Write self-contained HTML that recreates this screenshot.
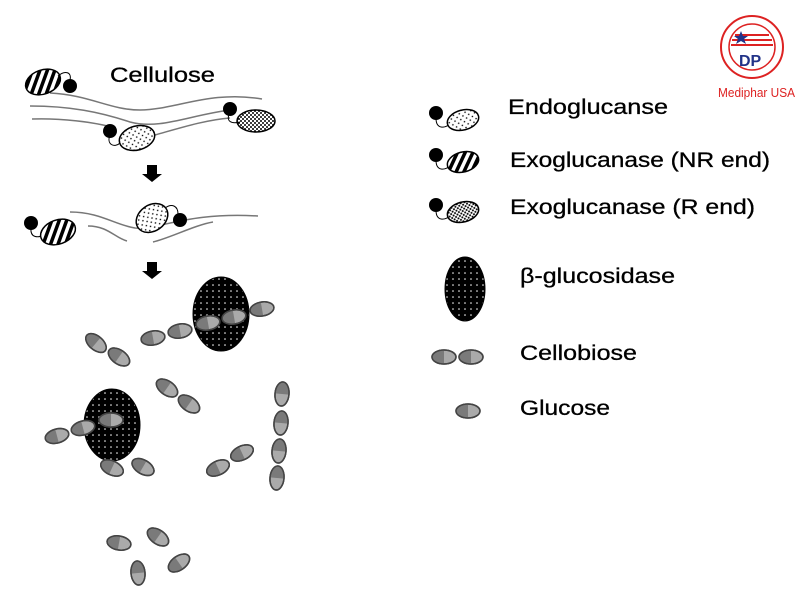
<!DOCTYPE html>
<html><head><meta charset="utf-8"><style>
html,body{margin:0;padding:0;background:#fff}
svg{display:block}
text{font-family:"Liberation Sans",Arial,sans-serif}
</style></head><body>
<svg width="800" height="600" viewBox="0 0 800 600" xmlns="http://www.w3.org/2000/svg">
<defs>
<pattern id="dots" width="6" height="6" patternUnits="userSpaceOnUse"><rect width="6" height="6" fill="#fff"/><circle cx="2" cy="2" r="0.8" fill="#000"/><circle cx="5" cy="5" r="0.8" fill="#000"/></pattern>
<pattern id="dense" width="4" height="4" patternUnits="userSpaceOnUse"><rect width="4" height="4" fill="#fff"/><circle cx="1" cy="1" r="1" fill="#000"/><circle cx="3" cy="3" r="1" fill="#000"/></pattern>
<pattern id="stripes" width="7" height="7" patternUnits="userSpaceOnUse" patternTransform="rotate(40)"><rect width="7" height="7" fill="#fff"/><rect width="3.5" height="7" fill="#000"/></pattern>
<pattern id="wdots" width="6" height="6" patternUnits="userSpaceOnUse"><rect width="6" height="6" fill="#000"/><circle cx="3" cy="3" r="0.8" fill="#fff"/></pattern>
<g id="glu">
<ellipse cx="0" cy="0" rx="12" ry="7" fill="#aaa" stroke="#444" stroke-width="1.5"/>
<path d="M0,-7 A12,7 0 0 0 0,7 Z" fill="#7a7a7a"/>
<ellipse cx="0" cy="0" rx="12" ry="7" fill="none" stroke="#444" stroke-width="1.5"/>
</g>
</defs>

<!-- Stage 1 -->
<text x="110" y="82" font-size="21" textLength="105" lengthAdjust="spacingAndGlyphs" stroke="#000" stroke-width="0.3">Cellulose</text>
<g fill="none" stroke="#777" stroke-width="1.5">
<path d="M50,93 C90,95 110,110 140,110 C175,110 210,90 262,99"/>
<path d="M30,106 C70,106 100,112 130,122 C160,130 190,115 230,110"/>
<path d="M32,119 C60,118 95,122 115,128"/>
<path d="M155,135 C180,128 205,120 230,118"/>
</g>
<ellipse cx="43" cy="82" rx="18" ry="12" transform="rotate(-20 43 82)" fill="url(#stripes)" stroke="#000" stroke-width="1.5"/>
<path d="M58,76 C65,70 72,72 70,80" fill="none" stroke="#000"/>
<circle cx="70" cy="86" r="7" fill="#000"/>
<ellipse cx="137" cy="138" rx="18" ry="12" transform="rotate(-15 137 138)" fill="url(#dots)" stroke="#000" stroke-width="1.5"/>
<path d="M110,135 C106,145 115,148 120,143" fill="none" stroke="#000"/>
<circle cx="110" cy="131" r="7" fill="#000"/>
<ellipse cx="256" cy="121" rx="19" ry="11" fill="url(#dense)" stroke="#000" stroke-width="1.5"/>
<path d="M230,112 C225,122 232,124 240,122" fill="none" stroke="#000"/>
<circle cx="230" cy="109" r="7" fill="#000"/>
<path d="M147,165 H157 V174 H162 L152,182 L142,174 H147 Z" fill="#000"/>

<!-- Stage 2 -->
<g fill="none" stroke="#777" stroke-width="1.5">
<path d="M70,212 C100,212 115,225 135,228 C160,230 185,212 258,216"/>
<path d="M88,226 C108,226 115,238 127,241"/>
<path d="M153,242 C170,238 195,225 213,222"/>
</g>
<circle cx="31" cy="223" r="7" fill="#000"/>
<path d="M31,228 C30,238 38,238 44,235" fill="none" stroke="#000"/>
<ellipse cx="58" cy="232" rx="18" ry="12" transform="rotate(-20 58 232)" fill="url(#stripes)" stroke="#000" stroke-width="1.5"/>
<ellipse cx="152" cy="218" rx="17" ry="13" transform="rotate(-35 152 218)" fill="url(#dots)" stroke="#000" stroke-width="1.5"/>
<path d="M165,208 C172,203 178,206 178,214" fill="none" stroke="#000"/>
<circle cx="180" cy="220" r="7" fill="#000"/>
<path d="M147,262 H157 V271 H162 L152,279 L142,271 H147 Z" fill="#000"/>

<!-- Stage 3 -->
<ellipse cx="221" cy="314" rx="28" ry="37" fill="url(#wdots)" stroke="#000"/>
<ellipse cx="112" cy="425" rx="28" ry="36" fill="url(#wdots)" stroke="#000"/>
<use href="#glu" transform="translate(153,338) rotate(-10)"/>
<use href="#glu" transform="translate(180,331) rotate(-10)"/>
<use href="#glu" transform="translate(208,323) rotate(-10)"/>
<use href="#glu" transform="translate(234,317) rotate(-10)"/>
<use href="#glu" transform="translate(262,309) rotate(-10)"/>
<use href="#glu" transform="translate(96,343) rotate(40)"/>
<use href="#glu" transform="translate(119,357) rotate(35)"/>
<use href="#glu" transform="translate(167,388) rotate(35)"/>
<use href="#glu" transform="translate(189,404) rotate(35)"/>
<use href="#glu" transform="translate(57,436) rotate(-15)"/>
<use href="#glu" transform="translate(83,428) rotate(-15)"/>
<use href="#glu" transform="translate(111,420)"/>
<use href="#glu" transform="translate(112,468) rotate(25)"/>
<use href="#glu" transform="translate(143,467) rotate(30)"/>
<use href="#glu" transform="translate(218,468) rotate(-25)"/>
<use href="#glu" transform="translate(242,453) rotate(-25)"/>
<use href="#glu" transform="translate(282,394) rotate(95)"/>
<use href="#glu" transform="translate(281,423) rotate(95)"/>
<use href="#glu" transform="translate(279,451) rotate(95)"/>
<use href="#glu" transform="translate(277,478) rotate(95)"/>
<use href="#glu" transform="translate(119,543) rotate(10)"/>
<use href="#glu" transform="translate(158,537) rotate(35)"/>
<use href="#glu" transform="translate(179,563) rotate(-35)"/>
<use href="#glu" transform="translate(138,573) rotate(85)"/>

<!-- Legend -->
<g font-size="21" stroke="#000" stroke-width="0.3">
<text x="508" y="114" textLength="160" lengthAdjust="spacingAndGlyphs">Endoglucanse</text>
<text x="510" y="167" textLength="260" lengthAdjust="spacingAndGlyphs">Exoglucanase (NR end)</text>
<text x="510" y="214" textLength="245" lengthAdjust="spacingAndGlyphs">Exoglucanase (R end)</text>
<text x="520" y="283" textLength="155" lengthAdjust="spacingAndGlyphs">β-glucosidase</text>
<text x="520" y="360" textLength="117" lengthAdjust="spacingAndGlyphs">Cellobiose</text>
<text x="520" y="415" textLength="90" lengthAdjust="spacingAndGlyphs">Glucose</text>
</g>
<circle cx="436" cy="113" r="7" fill="#000"/>
<path d="M436,118 C436,130 445,128 450,124" fill="none" stroke="#000"/>
<ellipse cx="463" cy="120" rx="16" ry="10" transform="rotate(-15 463 120)" fill="url(#dots)" stroke="#000" stroke-width="1.5"/>
<circle cx="436" cy="155" r="7" fill="#000"/>
<path d="M436,160 C436,172 445,170 450,166" fill="none" stroke="#000"/>
<ellipse cx="463" cy="162" rx="16" ry="10" transform="rotate(-15 463 162)" fill="url(#stripes)" stroke="#000" stroke-width="1.5"/>
<circle cx="436" cy="205" r="7" fill="#000"/>
<path d="M436,210 C436,222 445,220 450,216" fill="none" stroke="#000"/>
<ellipse cx="463" cy="212" rx="16" ry="10" transform="rotate(-15 463 212)" fill="url(#dense)" stroke="#000" stroke-width="1.5"/>
<ellipse cx="465" cy="289" rx="20" ry="32" fill="url(#wdots)" stroke="#000"/>
<use href="#glu" transform="translate(444,357)"/>
<use href="#glu" transform="translate(471,357)"/>
<use href="#glu" transform="translate(468,411)"/>

<!-- Logo -->
<circle cx="752" cy="47" r="31" fill="#fff" stroke="#d22" stroke-width="2"/>
<circle cx="752" cy="47" r="23" fill="none" stroke="#d22" stroke-width="1.5"/>
<g stroke="#d22" stroke-width="2">
<line x1="735" y1="35" x2="769" y2="35"/><line x1="732" y1="40" x2="772" y2="40"/><line x1="731" y1="45" x2="773" y2="45"/>
</g>
<polygon points="741,31 743,36 748,36 744,39 746,44 741,41 736,44 738,39 734,36 739,36" fill="#238"/>
<text x="739" y="66" font-size="16" font-weight="bold" fill="#238" font-family="Liberation Serif,serif">DP</text>
<text x="718" y="97" font-size="13" fill="#d22" textLength="77" lengthAdjust="spacingAndGlyphs">Mediphar USA</text>
</svg>
</body></html>
